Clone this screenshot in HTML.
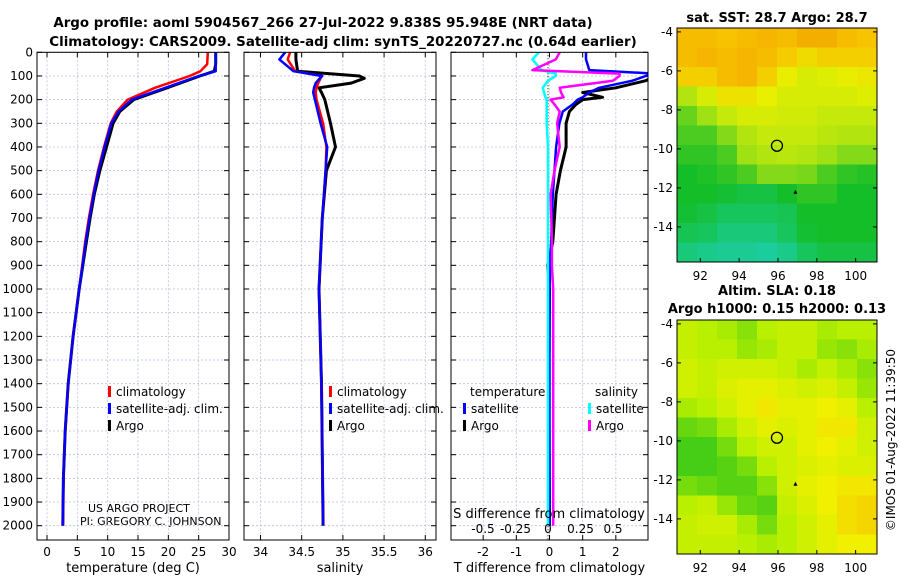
<!DOCTYPE html>
<html><head><meta charset="utf-8"><style>
body{margin:0;background:#fff;}
svg{display:block;font-family:"DejaVu Sans","Liberation Sans",sans-serif;}
</style></head><body>
<svg id="c" width="900" height="580" viewBox="0 0 900 580">
<text x="323" y="27" font-size="13.4" font-weight="bold" text-anchor="middle">Argo profile: aoml 5904567_266 27-Jul-2022 9.838S 95.948E (NRT data)</text>
<text x="343" y="46" font-size="13.4" font-weight="bold" text-anchor="middle">Climatology: CARS2009. Satellite-adj clim: synTS_20220727.nc (0.64d earlier)</text>
<text x="777" y="22" font-size="13" font-weight="bold" text-anchor="middle">sat. SST: 28.7 Argo: 28.7</text>
<text x="777" y="295" font-size="13" font-weight="bold" text-anchor="middle">Altim. SLA: 0.18</text>
<text x="777" y="313" font-size="13" font-weight="bold" text-anchor="middle">Argo h1000: 0.15 h2000: 0.13</text>
<text transform="translate(895,440) rotate(-90)" font-size="12" text-anchor="middle">©IMOS 01-Aug-2022 11:39:50</text>
<text x="88" y="512" font-size="11">US ARGO PROJECT</text>
<text x="80" y="525" font-size="11">PI: GREGORY C. JOHNSON</text>
</svg>
<script>
// depth axis
const depthTicks=[0,100,200,300,400,500,600,700,800,900,1000,1100,1200,1300,1400,1500,1600,1700,1800,1900,2000];
// temperature panel
const tDepth=[0,50,80,100,150,200,250,300,400,500,600,700,800,1000,1200,1400,1600,1800,2000];
const tClim=[26.5,26.4,25.3,23.5,17.8,13.3,11.5,10.5,9.4,8.4,7.6,6.9,6.3,5.3,4.3,3.5,3.0,2.7,2.6];
const tSat=[27.8,27.8,27.8,25.0,19.5,14.0,11.8,10.6,9.5,8.5,7.7,7.0,6.4,5.3,4.3,3.5,3.0,2.7,2.6];
const tArgo=[27.8,27.8,27.6,25.2,19.8,14.3,12.0,10.9,9.8,8.7,7.8,7.1,6.5,5.3,4.3,3.5,3.0,2.7,2.6];
const tTicks=[0,5,10,15,20,25,30];
// salinity panel
const sDepth=[0,30,80,100,110,130,150,170,200,300,400,500,700,1000,1400,2000];
const sClim=[34.36,34.33,34.42,34.74,34.73,34.70,34.68,34.67,34.68,34.76,34.80,34.79,34.75,34.71,34.74,34.76];
const sSat=[34.30,34.23,34.40,34.75,34.72,34.67,34.65,34.64,34.66,34.73,34.81,34.79,34.75,34.71,34.74,34.76];
const sArgo=[34.43,34.43,34.45,35.20,35.26,35.10,34.71,34.74,34.78,34.85,34.91,34.80,34.75,34.71,34.74,34.76];
const sTicks=[34,34.5,35,35.5,36];
// difference panel
const dDepth=[0,30,75,90,100,120,150,170,190,200,220,250,300,400,500,600,800,900,1000,1400,2000];
const dTSat=[1.1,1.1,1.2,3.2,2.9,2.5,1.5,1.2,1.0,0.85,0.7,0.4,0.3,0.2,0.15,0.1,0.05,0.02,0,0,0];
const dTArgo=[3.2,3.2,3.2,3.2,3.2,2.9,2.0,1.0,1.6,1.0,0.8,0.6,0.5,0.5,0.33,0.2,0.1,-0.05,0,-0.02,0];
const dSSat=[-0.07,-0.12,-0.05,0.06,0.06,0.0,-0.04,-0.03,-0.02,-0.01,-0.01,-0.01,-0.01,0,0,0,0,0,0,0,0];
const dSArgo=[0.09,0.06,-0.12,0.55,0.55,0.5,0.09,0.1,0.12,0.02,0.05,0.09,0.07,0.09,0.05,0.02,0.03,0.03,0.04,0.04,0.04];
const dTTicks=[-2,-1,0,1,2];
const dSTicks=[-0.5,-0.25,0,0.25,0.5];
const dSLabels=["-0.5","-0.25","0","0.25","0.5"];
// maps (normalized colour index)
const sstGrid=[
[0.92,0.92,0.9,0.92,0.94,0.92,0.96,0.96,0.92,0.9],
[0.92,0.94,0.92,0.94,0.92,0.87,0.82,0.86,0.86,0.86],
[0.86,0.86,0.92,0.94,0.86,0.76,0.7,0.72,0.76,0.78],
[0.6,0.7,0.8,0.8,0.75,0.7,0.7,0.7,0.7,0.72],
[0.45,0.55,0.65,0.7,0.7,0.68,0.68,0.65,0.65,0.65],
[0.4,0.4,0.5,0.6,0.65,0.65,0.65,0.62,0.6,0.6],
[0.35,0.35,0.4,0.55,0.6,0.62,0.6,0.55,0.5,0.5],
[0.3,0.32,0.35,0.4,0.5,0.5,0.48,0.4,0.35,0.33],
[0.3,0.3,0.28,0.25,0.25,0.3,0.35,0.35,0.3,0.3],
[0.28,0.25,0.2,0.2,0.2,0.22,0.3,0.3,0.3,0.3],
[0.22,0.2,0.15,0.15,0.15,0.2,0.28,0.3,0.3,0.3],
[0.15,0.12,0.1,0.1,0.08,0.12,0.2,0.25,0.25,0.25]];
const slaGrid=[
[0.55,0.5,0.45,0.35,0.5,0.55,0.55,0.45,0.5,0.5],
[0.55,0.5,0.5,0.4,0.45,0.55,0.55,0.4,0.35,0.45],
[0.6,0.55,0.6,0.6,0.6,0.55,0.45,0.55,0.45,0.35],
[0.6,0.55,0.65,0.7,0.7,0.65,0.6,0.65,0.55,0.4],
[0.45,0.5,0.6,0.7,0.8,0.7,0.7,0.75,0.7,0.5],
[0.25,0.3,0.45,0.6,0.7,0.65,0.7,0.8,0.8,0.6],
[0.15,0.15,0.3,0.5,0.6,0.6,0.7,0.75,0.7,0.6],
[0.15,0.15,0.2,0.3,0.5,0.6,0.65,0.7,0.65,0.65],
[0.3,0.25,0.2,0.2,0.35,0.6,0.7,0.75,0.8,0.8],
[0.5,0.55,0.4,0.25,0.2,0.55,0.65,0.75,0.85,0.9],
[0.55,0.6,0.6,0.45,0.3,0.5,0.6,0.7,0.85,0.9],
[0.55,0.55,0.55,0.5,0.45,0.5,0.6,0.7,0.75,0.75]];
const lonTicks=[92,94,96,98,100];
const latTicks=[-4,-6,-8,-10,-12,-14];
const floatPos=[95.948,-9.838];

const svg=document.getElementById('c');
const NS='http://www.w3.org/2000/svg';
function mk(tag,attrs,parent){const e=document.createElementNS(NS,tag);for(const k in attrs)e.setAttribute(k,attrs[k]);(parent||svg).appendChild(e);return e;}
function txt(x,y,s,size,anchor,parent){const t=mk('text',{x:x,y:y,'font-size':size,'text-anchor':anchor||'middle'},parent);t.textContent=s;return t;}

const Y0=52.3, YS=0.2367, YB=540;
const yD=d=>Y0+d*YS;

function panel(name,x0,x1,xmin,xmax,ticks,labels,title,showY){
  const g=mk('g',{});
  
  
  const sx=v=>x0+(v-xmin)/(xmax-xmin)*(x1-x0);
  ticks.forEach((t,i)=>{
    const l=mk('line',{x1:sx(t),x2:sx(t),y1:Y0,y2:YB,stroke:'#b8c0e0','stroke-width':0.8,'stroke-dasharray':'2,2'},g);
    
    mk('line',{x1:sx(t),x2:sx(t),y1:YB,y2:YB-5,stroke:'#000'},g);
    mk('line',{x1:sx(t),x2:sx(t),y1:Y0,y2:Y0+5,stroke:'#000'},g);
    const lb=txt(sx(t),556,labels?labels[i]:String(t),12,'middle',g);
    
  });
  depthTicks.forEach(d=>{
    mk('line',{x1:x0,x2:x1,y1:yD(d),y2:yD(d),stroke:'#b8c0e0','stroke-width':0.8,'stroke-dasharray':'2,2'},g);
    mk('line',{x1:x0,x2:x0+5,y1:yD(d),y2:yD(d),stroke:'#000'},g);
    mk('line',{x1:x1,x2:x1-5,y1:yD(d),y2:yD(d),stroke:'#000'},g);
    if(showY){const t=txt(x0-4,yD(d)+4,String(d),12,'end',g);}
  });
  const tt=txt((x0+x1)/2,572,title,13,'middle',g);
  
  return {g,sx};
}
function clipRect(id,x0,x1){const cp=mk('clipPath',{id:id});mk('rect',{x:x0,y:Y0,width:x1-x0,height:YB-Y0},cp);}
function line(p,xs,ds,color,w,name,clip){
  const pts=xs.map((v,i)=>p.sx(v).toFixed(1)+','+yD(ds[i]).toFixed(1)).join(' ');
  const pl=mk('polyline',{points:pts,fill:'none',stroke:color,'stroke-width':w,'stroke-linejoin':'round','clip-path':'url(#'+clip+')'},p.g);
  
}
function frame(x0,x1){mk('rect',{x:x0,y:Y0,width:x1-x0,height:YB-Y0,fill:'none',stroke:'#000'});}
function legend(x,y,items,parent){
  items.forEach((it,i)=>{
    const yy=y+i*17;
    const m=mk('rect',{x:x,y:yy-10,width:3,height:11,fill:it[1]},parent);
    
    const t=txt(x+8,yy,it[0],12,'start',parent);
    
  });
}

clipRect('c1',37,229);clipRect('c2',244,436);clipRect('c3',451,648);
const p1=panel('temperature-panel',37,229,-1.65,30,tTicks,null,'temperature (deg C)',true);
line(p1,tArgo,tDepth,'#000',3,'argo-temperature-line','c1');
line(p1,tClim,tDepth,'#f00',2.5,'climatology-temperature-line','c1');
line(p1,tSat,tDepth,'#00f',2.5,'satellite-temperature-line','c1');
frame(37,229);
legend(108,396,[['climatology','#f00'],['satellite-adj. clim.','#00f'],['Argo','#000']],p1.g);

const p2=panel('salinity-panel',244,436,33.8,36.13,sTicks,null,'salinity',false);
line(p2,sArgo,sDepth,'#000',3,'argo-salinity-line','c2');
line(p2,sClim,sDepth,'#f00',2.5,'climatology-salinity-line','c2');
line(p2,sSat,sDepth,'#00f',2.5,'satellite-salinity-line','c2');
frame(244,436);
legend(329,396,[['climatology','#f00'],['satellite-adj. clim.','#00f'],['Argo','#000']],p2.g);

const p3=panel('difference-panel',451,648,-2.97,2.97,dTTicks,null,'T difference from climatology',false);
const sxS=v=>548+v*130;
const pS={g:p3.g,sx:sxS};
mk('line',{x1:548,x2:548,y1:Y0,y2:YB,stroke:'#000','stroke-dasharray':'1,2'},p3.g);
line(p3,dTArgo,dDepth,'#000',3,'argo-t-diff-line','c3');
line(p3,dTSat,dDepth,'#00f',2.5,'satellite-t-diff-line','c3');
line(pS,dSSat,dDepth,'#0ff',2.5,'satellite-s-diff-line','c3');
line(pS,dSArgo,dDepth,'#f0f',2.5,'argo-s-diff-line','c3');
frame(451,648);
dSTicks.forEach((t,i)=>{const l=txt(sxS(t),533,dSLabels[i],12,'middle',p3.g);});
const st=txt(549,518,'S difference from climatology',13,'middle',p3.g);

txt(470,396,'temperature',12,'start',p3.g);
txt(595,396,'salinity',12,'start',p3.g);
legend(463,413,[['satellite','#00f'],['Argo','#000']],p3.g);
legend(588,413,[['satellite','#0ff'],['Argo','#f0f']],p3.g);

function lerpColor(stops,v){
  for(let i=1;i<stops.length;i++){if(v<=stops[i][0]){const a=stops[i-1],b=stops[i],f=(v-a[0])/(b[0]-a[0]||1);
    return 'rgb('+[0,1,2].map(k=>Math.round(a[1][k]+(b[1][k]-a[1][k])*f)).join(',')+')';}}
  const l=stops[stops.length-1][1];return 'rgb('+l.join(',')+')';
}
const sstStops=[[0,[30,210,200]],[0.3,[20,190,40]],[0.55,[160,225,20]],[0.75,[232,240,0]],[0.9,[248,195,0]],[1,[240,160,0]]];
const slaStops=[[0,[20,190,30]],[0.5,[185,240,0]],[0.75,[240,240,0]],[1,[248,195,0]]];
function map(name,y0,grid,stops){
  const g=mk('g',{});
  
  const x0=677,x1=877,y1=y0+234;
  const sx=lon=>x0+(lon-90.8)/(101.1-90.8)*(x1-x0);
  const sy=lat=>y0+(-3.8-lat)/(15.8-3.8)*(y1-y0);
  grid.forEach((row,r)=>row.forEach((v,c)=>{
    const la=-3.8-r,lo=90.8+c*1.03;
    const cell=mk('rect',{x:sx(lo),y:sy(la),width:sx(lo+1.03)-sx(lo)+0.5,height:sy(la-1)-sy(la)+0.5,fill:lerpColor(stops,v)},g);
    
  }));
  mk('rect',{x:x0,y:y0,width:x1-x0,height:y1-y0,fill:'none',stroke:'#000'},g);
  lonTicks.forEach(t=>{mk('line',{x1:sx(t),x2:sx(t),y1:y1,y2:y1-4,stroke:'#000'},g);const l=txt(sx(t),y1+18,String(t),12,'middle',g);});
  latTicks.forEach(t=>{mk('line',{x1:x1,x2:x1-4,y1:sy(t),y2:sy(t),stroke:'#000'},g);mk('line',{x1:x0,x2:x0+4,y1:sy(t),y2:sy(t),stroke:'#000'},g);const l=txt(x0-4,sy(t)+4,String(t),12,'end',g);});
  const m=mk('circle',{cx:sx(floatPos[0]),cy:sy(floatPos[1]),r:5.5,fill:'none',stroke:'#000','stroke-width':1.3},g);
  
  mk('path',{d:'M'+(sx(96.9)-2)+','+(sy(-12.2)+2)+' l2,-4 l2,4z',fill:'#000'},g);
}
map('sst-map',28,sstGrid,sstStops);
map('sla-map',320,slaGrid,slaStops);
</script>
</body></html>
